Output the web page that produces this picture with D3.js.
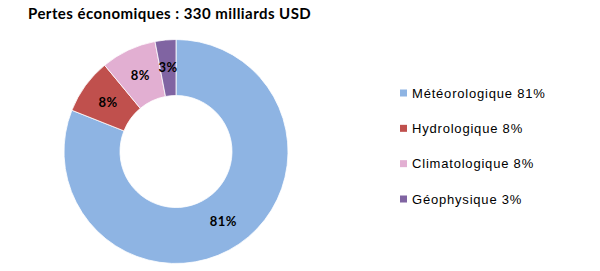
<!DOCTYPE html>
<html>
<head>
<meta charset="utf-8">
<script src="https://cdn.jsdelivr.net/npm/d3@7"></script>
<style>
  body { margin: 0; background: #fff; }
  svg { display: block; }
</style>
</head>
<body>
<div id="chart"></div>
<script>
// Data
const categories = ['Météorologique', 'Hydrologique', 'Climatologique', 'Géophysique'];
const values = [81, 8, 8, 3];
const colors = ['#8EB4E3', '#C0504D', '#E2AFD2', '#8064A2'];
const title = 'Pertes économiques : 330 milliards USD';

const width = 600, height = 271;
const cx = 176, cy = 151.5, outerR = 112, innerR = 56;

const svg = d3.select('#chart').append('svg')
    .attr('width', width)
    .attr('height', height);

// Title
svg.append('text')
    .attr('x', 28)
    .attr('y', 19)
    .attr('font-family', 'Lato, "DejaVu Sans", sans-serif')
    .attr('font-weight', 'bold')
    .attr('font-size', '15px')
    .attr('letter-spacing', '0.45px')
    .attr('fill', '#000')
    .text(title);

const pie = d3.pie().sort(null).value(d => d);
const arcs = pie(values);
const arc = d3.arc().innerRadius(innerR).outerRadius(outerR);
const labelArc = d3.arc().innerRadius(84).outerRadius(84);

const g = svg.append('g').attr('transform', `translate(${cx},${cy})`);

g.selectAll('path')
    .data(arcs)
    .enter()
    .append('path')
    .attr('d', arc)
    .attr('fill', (d, i) => colors[i])
    .attr('stroke', '#fff')
    .attr('stroke-width', 0.8);

g.selectAll('text.lbl')
    .data(arcs)
    .enter()
    .append('text')
    .attr('class', 'lbl')
    .attr('transform', d => `translate(${labelArc.centroid(d)})`)
    .attr('text-anchor', 'middle')
    .attr('dy', '0.35em')
    .attr('font-family', 'Lato, "DejaVu Sans", sans-serif')
    .attr('font-weight', 'bold')
    .attr('font-size', '13px')
    .attr('letter-spacing', '0.4px')
    .attr('fill', '#000')
    .text(d => d.data + '%');

// Legend
const legendY = d3.scalePoint().domain(categories).range([93, 199]);
const legend = svg.append('g');

const item = legend.selectAll('g')
    .data(categories)
    .enter()
    .append('g')
    .attr('transform', d => `translate(400,${legendY(d)})`);

item.append('rect')
    .attr('x', 0)
    .attr('y', -3.5)
    .attr('width', 7)
    .attr('height', 7)
    .attr('fill', (d, i) => colors[i]);

item.append('text')
    .attr('x', 12)
    .attr('y', 0)
    .attr('dy', '0.35em')
    .attr('font-family', '"Liberation Sans", Arial, sans-serif')
    .attr('font-size', '13px')
    .attr('letter-spacing', '0.8px')
    .attr('fill', '#000')
    .text((d, i) => `${d} ${values[i]}%`);
</script>
</body>
</html>
